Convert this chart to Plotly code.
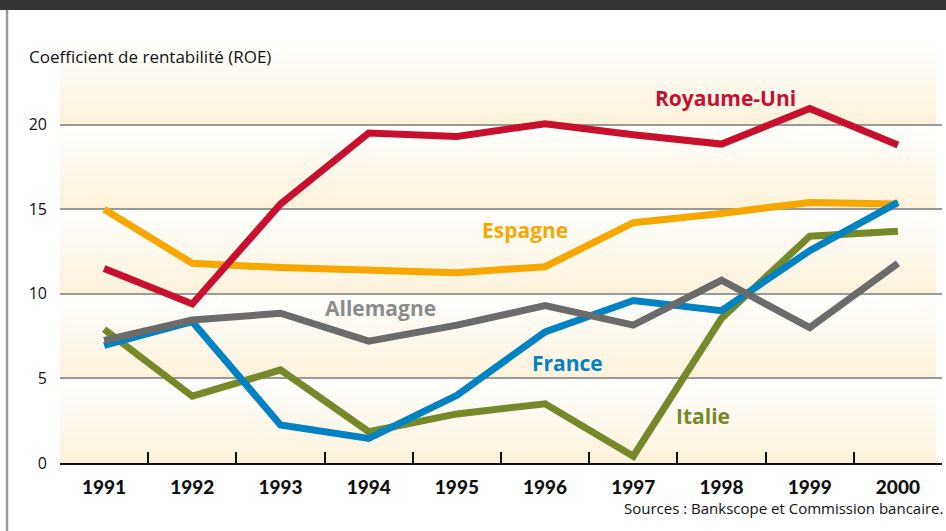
import plotly.graph_objects as go

# ---------------- data ----------------
years = ["1991", "1992", "1993", "1994", "1995", "1996", "1997", "1998", "1999", "2000"]
royaume_uni = [11.5, 9.4, 15.3, 19.5, 19.3, 20.05, 19.4, 18.85, 20.95, 18.8]
espagne = [15.0, 11.8, 11.55, 11.4, 11.25, 11.6, 14.2, 14.75, 15.4, 15.3]
allemagne = [7.25, 8.45, 8.85, 7.2, 8.15, 9.3, 8.15, 10.8, 8.0, 11.8]
france = [6.95, 8.35, 2.25, 1.45, 4.0, 7.75, 9.6, 9.0, 12.55, 15.4]
italie = [7.9, 3.95, 5.5, 1.85, 2.9, 3.5, 0.4, 8.55, 13.4, 13.7]
y_ticks = [0, 5, 10, 15, 20]

# ---------------- style ----------------
W, H = 946, 531
L, R, T, B = 60, 942, 40, 463  # plot area in px


def xp(px):
    return (px - L) / (R - L)


def yp(py):
    return (B - py) / (B - T)


C_RED = "#C8102E"
C_ORANGE = "#F6A800"
C_GRAY = "#6B6B6B"
C_BLUE = "#0082C3"
C_GREEN = "#76892A"

fig = go.Figure()

series = [
    ("Espagne", espagne, C_ORANGE),
    ("Italie", italie, C_GREEN),
    ("France", france, C_BLUE),
    ("Allemagne", allemagne, C_GRAY),
    ("Royaume-Uni", royaume_uni, C_RED),
]
for name, vals, col in series:
    fig.add_trace(go.Scatter(x=years, y=vals, mode="lines", name=name,
                             line=dict(color=col, width=7),
                             showlegend=False, hoverinfo="x+y+name"))

shapes = []
# banded gradient background (white at top of each band -> cream at bottom)
cream = (252, 242, 219)
N = 14
for b in range(5):
    for j in range(N):
        t = (j + 0.5) / N
        c = tuple(round(cream[k] * (1 - t) + 255 * t) for k in range(3))
        shapes.append(dict(type="rect", xref="paper", yref="y",
                           x0=0, x1=xp(936),
                           y0=5 * b + 5 * j / N, y1=5 * b + 5 * (j + 1) / N + 0.02,
                           fillcolor="rgb(%d,%d,%d)" % c, line=dict(width=0),
                           layer="below"))
# dark top bar
shapes.append(dict(type="rect", xref="paper", yref="paper",
                   x0=xp(0), x1=xp(W), y0=yp(10), y1=yp(0),
                   fillcolor="#353535", line=dict(width=0), layer="above"))
# left gray frame line
shapes.append(dict(type="line", xref="paper", yref="paper",
                   x0=xp(7), x1=xp(7), y0=yp(W), y1=yp(10),
                   line=dict(color="#9a9a9a", width=2.5), layer="above"))

annotations = [
    dict(text="Coefficient de rentabilité (ROE)", xref="paper", yref="paper",
         x=xp(27), y=yp(57), xanchor="left", yanchor="middle", showarrow=False,
         font=dict(family="Open Sans", size=17, color="#111111")),
    dict(text="Sources : Bankscope et Commission bancaire.", xref="paper", yref="paper",
         x=xp(945), y=yp(508), xanchor="right", yanchor="middle", showarrow=False,
         font=dict(family="Open Sans", size=15, color="#111111")),
]
labels = [
    ("Royaume-Uni", 7.05, 21.6, C_RED),
    ("Espagne", 4.77, 13.8, C_ORANGE),
    ("Allemagne", 3.13, 9.15, "#8C8C8C"),
    ("France", 5.25, 5.9, C_BLUE),
    ("Italie", 6.79, 2.77, C_GREEN),
]
for txt, x, y, col in labels:
    annotations.append(dict(text="<b>%s</b>" % txt, x=x, y=y, xref="x", yref="y",
                            showarrow=False, xanchor="center", yanchor="middle",
                            font=dict(family="Open Sans", size=21, color=col)))

fig.update_layout(
    width=W, height=H,
    margin=dict(l=L, r=W - R, t=T, b=H - B, pad=0),
    paper_bgcolor="white", plot_bgcolor="white",
    shapes=shapes, annotations=annotations,
    xaxis=dict(type="category", range=[-0.5, 9.5], tickson="boundaries",
               ticks="inside", ticklen=11, tickwidth=1.5, tickcolor="#111111",
               showline=True, linecolor="#111111", linewidth=1.5,
               showgrid=False, zeroline=False, ticklabelstandoff=6,
               tickfont=dict(family="Lato", size=19, color="#111111", weight=900)),
    yaxis=dict(range=[0, 25], tickvals=y_ticks, ticktext=[str(v) for v in y_ticks],
               showgrid=True, gridcolor="#9a9a9a", gridwidth=1.5,
               zeroline=False, showline=False, ticks="", ticklabelstandoff=12,
               tickfont=dict(family="Open Sans", size=16, color="#111111")),
)

fig.write_html("out.html", config={"displayModeBar": False},
               post_script="document.body.style.margin='0';document.body.style.overflow='hidden';")
